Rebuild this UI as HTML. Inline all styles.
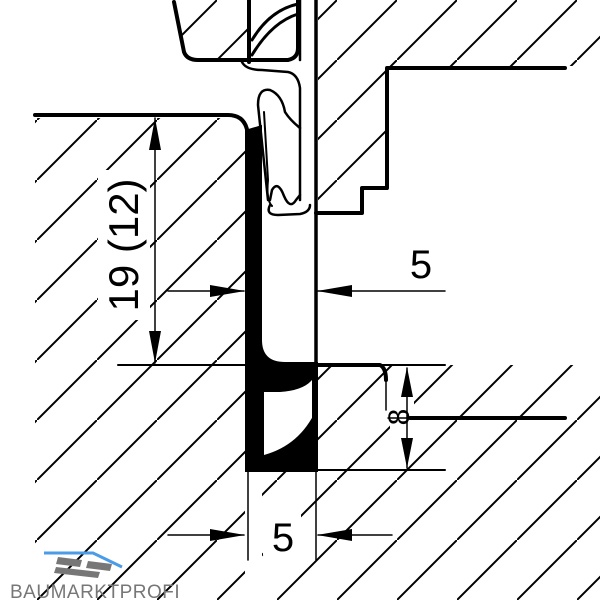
<!DOCTYPE html>
<html><head><style>html,body{margin:0;padding:0;background:#fff}svg{display:block}</style></head>
<body>
<svg width="600" height="600" viewBox="0 0 600 600" xmlns="http://www.w3.org/2000/svg">
<defs>
<pattern id="h" patternUnits="userSpaceOnUse" width="60" height="60" patternTransform="translate(37,0)">
<line x1="-5" y1="65" x2="65" y2="-5" stroke="#000" stroke-width="2"/>
</pattern>
<clipPath id="c1"><path d="M35 118 L228 118 Q245 118 245 135 L245 600 L35 600 Z"/></clipPath>
<clipPath id="c2"><path d="M318 365 L600 365 L600 600 L318 600 Z M262 470 L318 470 L318 600 L262 600Z"/></clipPath>
<clipPath id="c3"><path d="M318 0 L600 0 L600 66 L388 66 L388 190 L362 190 L362 215 L318 215 Z"/></clipPath>
<clipPath id="c4"><path d="M176 0 L184 52 Q190 60 200 60 L248 60 L248 0 Z"/></clipPath>
</defs>
<g fill="url(#h)">
<rect width="600" height="600" clip-path="url(#c1)"/>
<rect width="600" height="600" clip-path="url(#c2)"/>
<rect width="600" height="600" clip-path="url(#c3)"/>
<rect width="600" height="600" clip-path="url(#c4)"/>
</g>
<rect x="98" y="170" width="52" height="150" fill="#fff"/>
<rect x="400" y="238" width="44" height="44" fill="#fff"/>
<rect x="263" y="513" width="38" height="42" fill="#fff"/>
<rect x="390" y="395" width="24" height="40" fill="#fff"/>
<g fill="none" stroke="#000" stroke-linecap="round" stroke-linejoin="round">
<path d="M35 115 L228 115 Q246 115 248 135" stroke-width="4"/>
<path d="M565 68 L387 68 L387 188 L362 188 L362 213 L316 213" stroke-width="4"/>
<line x1="316" y1="0" x2="316" y2="365" stroke-width="3.5"/>
<line x1="300" y1="0" x2="300" y2="60" stroke-width="2.5"/>
<path d="M174 2 L184 52 Q187 60 198 60 L288 60 Q298 58 298 48 L298 0" stroke-width="4"/>
<line x1="249" y1="0" x2="249" y2="62" stroke-width="4"/>
<path d="M252 40 Q270 10 298 4" stroke-width="3"/>
<path d="M252 55 Q272 22 298 14" stroke-width="3"/>
<path d="M242 62 Q246 70 262 70 L288 72 Q298 74 300 88 L300 200" stroke-width="2.5"/>
<path d="M268 200 L258 105 Q258 88 270 90 Q282 95 285 112 Q290 120 300 128" stroke-width="2.5"/>
<path d="M270 205 Q265 215 278 215 L300 214 Q310 212 310 205 M270 200 L272 190 Q278 180 284 196 Q290 210 296 200 L300 195" stroke-width="2.5"/>
<path d="M264 112 L268 180 Q266 200 272 206" stroke-width="2"/>
<path d="M316 365 L380 365 Q386 368 386 380" stroke-width="4"/>
<line x1="386" y1="380" x2="386" y2="410" stroke-width="1.5"/>
<path d="M410 418 L565 418" stroke-width="4"/>
<line x1="155" y1="118" x2="155" y2="363" stroke-width="1.5"/>
<line x1="118" y1="365" x2="445" y2="365" stroke-width="2"/>
<line x1="248" y1="470" x2="445" y2="470" stroke-width="2"/>
<line x1="168" y1="291" x2="244" y2="291" stroke-width="1.5"/>
<line x1="318" y1="291" x2="445" y2="291" stroke-width="1.5"/>
<line x1="168" y1="535" x2="244" y2="535" stroke-width="1.5"/>
<line x1="318" y1="535" x2="392" y2="535" stroke-width="1.5"/>
<line x1="248" y1="470" x2="248" y2="560" stroke-width="1.5"/>
<line x1="316" y1="470" x2="316" y2="560" stroke-width="1.5"/>
<line x1="407" y1="368" x2="407" y2="468" stroke-width="1.5"/>
<line x1="388" y1="418" x2="410" y2="418" stroke-width="1.5"/>
</g>
<path d="M245 130 L262 125 L262 340 Q262 362 285 362 L316 362 L316 373 Q310 390 280 392 L264 392 L264 455 Q300 445 316 410 L316 472 L245 472 Z" fill="#000"/>
<rect x="312" y="362" width="6" height="110" fill="#000"/>
<g fill="#000">
<path d="M155 118 L149 150 L161 150Z"/>
<path d="M155 363 L149 331 L161 331Z"/>
<path d="M245 291 L210 285 L210 297Z"/>
<path d="M317 291 L352 285 L352 297Z"/>
<path d="M245 535 L210 529 L210 541Z"/>
<path d="M317 535 L352 529 L352 541Z"/>
<path d="M407 367 L401 397 L413 397Z"/>
<path d="M407 468 L401 438 L413 438Z"/>
</g>
<g font-family="Liberation Sans, sans-serif" fill="#000">
<text x="0" y="0" font-size="42" text-anchor="middle" transform="translate(138,245) rotate(-90)">19 (12)</text>
<text x="421" y="278" font-size="40" text-anchor="middle">5</text>
<text x="283" y="551" font-size="40" text-anchor="middle">5</text>
<text x="0" y="0" font-size="30" text-anchor="middle" transform="translate(409,417) rotate(-90)">8</text>
</g>
<path d="M44 553 L93 553 L122 567" fill="none" stroke="#4a9be8" stroke-width="3"/>
<g fill="#777">
<path d="M58 557 L82 560 L80 567 L56 564Z"/><path d="M88 561 L112 564 L110 571 L86 568Z"/>
<path d="M56 567 L100 572 L98 578 L54 573Z"/>
</g>
<text x="10" y="598" font-family="Liberation Sans, sans-serif" font-size="19" fill="#777" letter-spacing="0.5">BAUMARKTPROFI</text>
</svg>
</body></html>
